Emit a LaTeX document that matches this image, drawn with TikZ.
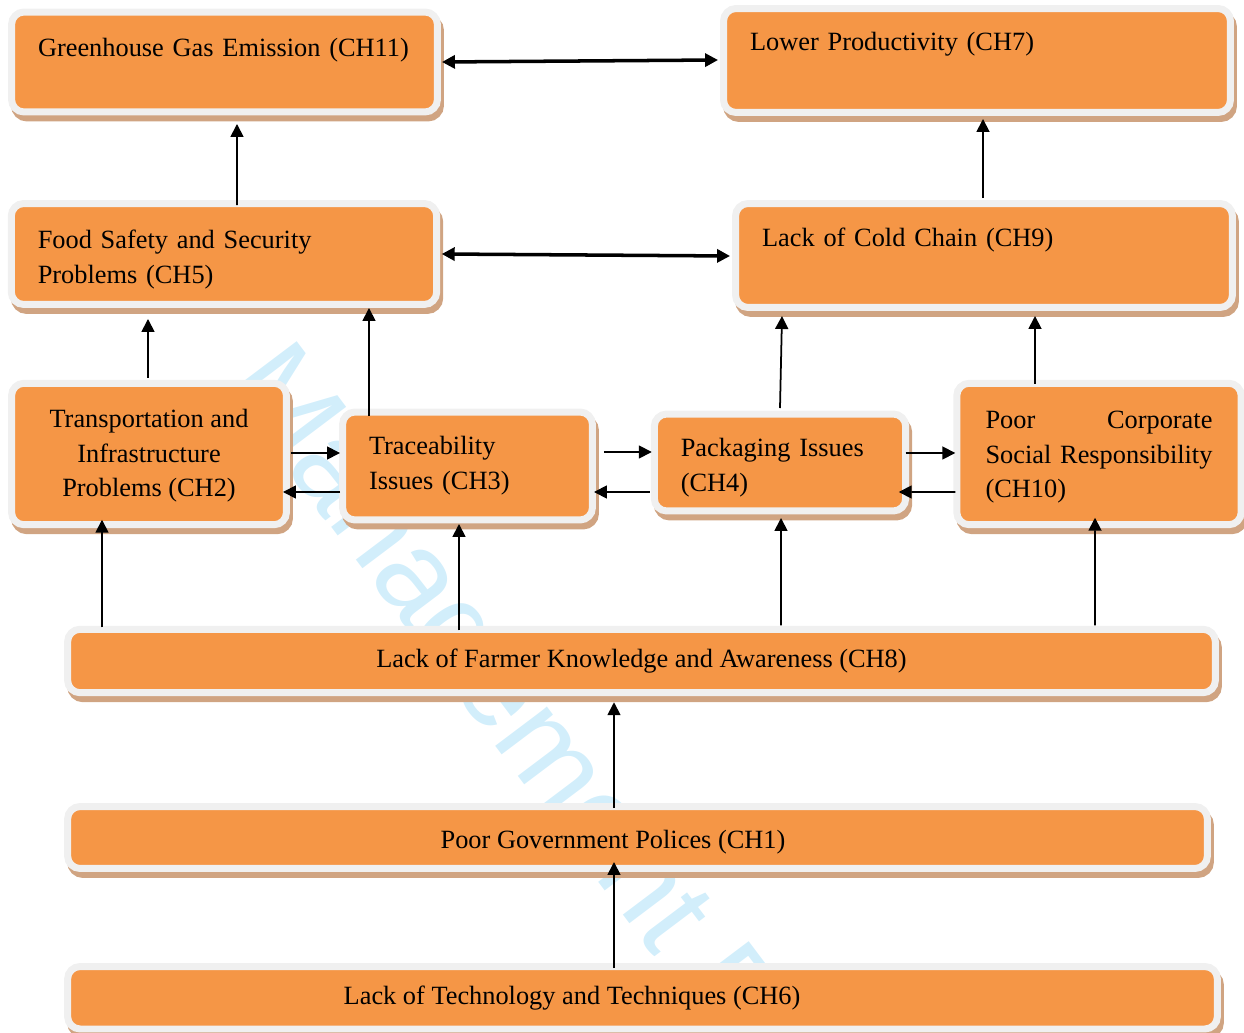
\documentclass[tikz,border=0pt]{standalone}
\usepackage{fontspec}
\setmainfont{Liberation Serif}
\newfontfamily\wmfont{Liberation Sans}
\usetikzlibrary{arrows.meta,calc}
\definecolor{boxfill}{RGB}{245,150,70}
\definecolor{boxrim}{RGB}{240,240,240}
\definecolor{boxshade}{RGB}{208,164,130}
\definecolor{wmark}{RGB}{210,238,251}
\tikzset{
  box/.style={rectangle,rounded corners=0.25cm,fill=boxfill,draw=boxrim,line width=0.14cm,
    outer sep=0pt,inner xsep=0.53cm,inner ysep=0pt,font=\fontsize{15}{19.8}\selectfont,
    preaction={draw=boxshade,fill=boxshade,line width=0.14cm,
      transform canvas={xshift=0.06cm,yshift=-0.12cm}}},
  lbox/.style={box,align=left},
  link/.style={line width=1pt,-{Triangle[length=0.26cm,width=0.26cm]}},
  both/.style={line width=2pt,{Triangle[length=0.26cm,width=0.26cm]}-{Triangle[length=0.26cm,width=0.26cm]}},
  wm/.style={text=wmark,font=\wmfont\fontsize{70}{84}\selectfont,anchor=base west,rotate=-53,inner sep=0pt},
}
\begin{document}
\begin{tikzpicture}[x=0.02cm,y=-0.02cm]
    \useasboundingbox (0,0) rectangle (1244,1033);
    % ---- watermark behind everything ----
    \node[wm] (wmk) at (223,384) {Management R};
    % ---- top row ----
    \node[lbox,minimum width=8.52cm,minimum height=2.0cm,text width=7.46cm,
      text height=0.3cm,text depth=0.50cm] (ch11) at (224.5,62) {Greenhouse Gas Emission (CH11)};
    \node[lbox,minimum width=10.14cm,minimum height=2.08cm,text width=9.08cm,
      text height=0.3cm,text depth=0.70cm] (ch7) at (977,60.5) {Lower Productivity (CH7)};
    % ---- second row ----
    \node[lbox,minimum width=8.51cm,minimum height=2.02cm,text width=7.45cm]
      (ch5) at (224,254) {\rule{0pt}{0.6cm}Food Safety and Security\\Problems (CH5)};
    \node[lbox,minimum width=9.94cm,minimum height=2.08cm,text width=8.88cm,
      text height=0.3cm,text depth=0.66cm] (ch9) at (984,255.5) {Lack of Cold Chain (CH9)};
    % ---- middle row ----
    \node[box,align=center,minimum width=5.5cm,minimum height=2.83cm]
      (ch2) at (149,454) {\rule{0pt}{0.44cm}Transportation and\\Infrastructure\\Problems (CH2)};
    \node[lbox,minimum width=5.0cm,minimum height=2.16cm,text width=3.94cm]
      (ch3) at (467.5,466) {Traceability\\Issues (CH3)};
    \node[lbox,minimum width=5.03cm,minimum height=1.94cm,text width=3.97cm]
      (ch4) at (780,462.5) {\rule{0pt}{0.56cm}Packaging Issues\\(CH4)};
    \node[lbox,minimum width=5.69cm,minimum height=2.83cm,text width=4.54cm,inner xsep=0.575cm]
      (ch10) at (1099,454) {\rule{0pt}{0.48cm}Poor\hfill Corporate\\Social Responsibility\\(CH10)};
    % ---- wide bars ----
    \node[box,minimum width=22.96cm,minimum height=1.27cm]
      (ch8) at (641.5,661) {Lack of Farmer Knowledge and Awareness (CH8)};
    \node[box,minimum width=22.8cm,minimum height=1.24cm,text height=0.52cm,text depth=0.1cm]
      (ch1) at (637.5,837.5) {Poor Government Polices (CH1)\hspace*{0.98cm}};
    \node[box,minimum width=23.0cm,minimum height=1.25cm]
      (ch6) at (642.5,997.75) {Lack of Technology and Techniques (CH6)\hspace*{2.82cm}};
    % ---- two-way links ----
    \draw[both] ($(ch11.east)+(4.5,0)$) -- ($(ch7.west)+(-5.5,-0.5)$);
    \draw[both] ($(ch5.east)+(5,0)$) -- ($(ch9.west)+(-5.5,0.5)$);
    % ---- upward links ----
    \draw[link] ($(ch5.north)+(13,1.5)$) -- ($(ch11.south)+(12.5,12)$);
    \draw[link] ($(ch9.north)+(-1,-5.5)$) -- ($(ch7.south)+(6,6.5)$);
    \draw[link] ($(ch2.north)+(-1,-5.5)$) -- ($(ch5.south)+(-76,14.5)$);
    \draw[link] ($(ch3.north)+(-98.5,4)$) -- ($(ch5.south)+(145,3.5)$);
    \draw[link] ($(ch4.north)+(0,-6)$) -- ($(ch9.south)+(-202,8.5)$);
    \draw[link] ($(ch10.north)+(-64,0.5)$) -- ($(ch9.south)+(51,8.5)$);
    \draw[link] ($(ch8.north)+(-539.5,-2)$) -- ($(ch2.south)+(-47,-5)$);
    \draw[link] ($(ch8.north)+(-182.5,1)$) -- ($(ch3.south)+(-8.5,4)$);
    \draw[link] ($(ch8.north)+(139.5,-4)$) -- ($(ch4.south)+(1,7)$);
    \draw[link] ($(ch8.north)+(453.5,-4)$) -- ($(ch10.south)+(-4,-7)$);
    \draw[link] ($(ch1.north)+(-23.5,1.5)$) -- ($(ch8.south)+(-27.5,9.5)$);
    \draw[link] ($(ch6.north)+(-28.5,1.5)$) -- ($(ch1.south)+(-23.5,-6.5)$);
    % ---- sideways links in the middle row ----
    \draw[link] ($(ch2.east)+(4.5,-1)$) -- ($(ch3.west)+(-2.5,-13)$);
    \draw[link] ($(ch3.west)+(-2.5,26)$) -- ($(ch2.east)+(-3.5,38)$);
    \draw[link] ($(ch3.east)+(11.5,-14)$) -- ($(ch4.west)+(-2.5,-10.5)$);
    \draw[link] ($(ch4.west)+(-4.5,29.5)$) -- ($(ch3.east)+(1.5,26)$);
    \draw[link] ($(ch4.east)+(0,-9.5)$) -- ($(ch10.west)+(-1.5,-1)$);
    \draw[link] ($(ch10.west)+(-1.5,38)$) -- ($(ch4.east)+(-7,29.5)$);
\end{tikzpicture}
\end{document}
